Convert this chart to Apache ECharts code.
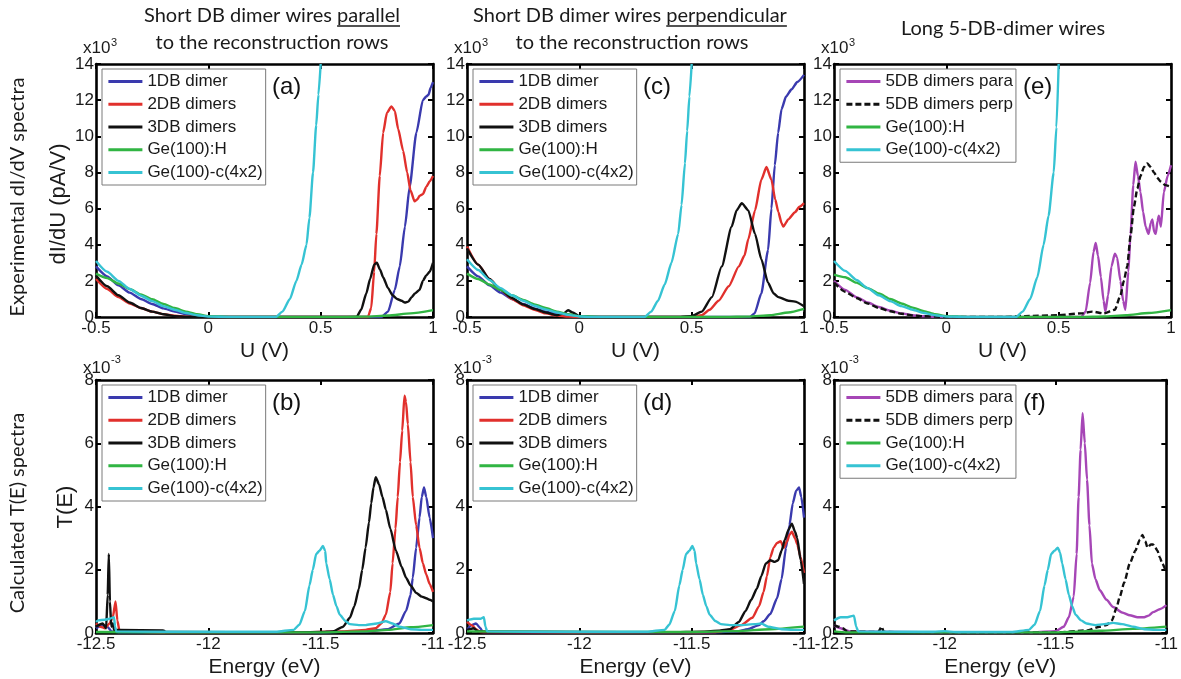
<!DOCTYPE html>
<html>
<head>
<meta charset="utf-8">
<script src="https://cdn.jsdelivr.net/npm/echarts@6/dist/echarts.min.js"></script>
<style>
  html, body { margin: 0; padding: 0; background: #fff; }
  #chart { width: 1181px; height: 679px; }
</style>
</head>
<body>
<div id="chart"></div>
<script>
// ---------- series names ----------
const NAMES_SHORT = ['1DB dimer', '2DB dimers', '3DB dimers', 'Ge(100):H', 'Ge(100)-c(4x2)'];
const NAMES_LONG = ['5DB dimers para', '5DB dimers perp', 'Ge(100):H', 'Ge(100)-c(4x2)'];

// ---------- (a) dI/dU, wires parallel to rows  [U (V), dI/dU x10^3 pA/V] ----------
const A_1DB = [[-0.5,2.8],[-0.45,2.25],[-0.4,1.75],[-0.35,1.35],[-0.3,1.0],[-0.25,0.72],[-0.2,0.48],[-0.15,0.3],[-0.1,0.16],[-0.05,0.06],[0,0.01],[0.2,0],[0.5,0],[0.77,0],[0.8,0.3],[0.83,1.5],[0.852,2.8],[0.875,5.0],[0.896,7.2],[0.926,10.2],[0.955,12.0],[0.97,12.2],[0.98,12.3],[0.99,12.7],[1.0,13.0]];
const A_2DB = [[-0.5,2.1],[-0.45,1.55],[-0.4,1.1],[-0.35,0.75],[-0.3,0.5],[-0.25,0.3],[-0.2,0.16],[-0.15,0.07],[-0.1,0.02],[0,0],[0.5,0],[0.71,0],[0.725,0.5],[0.738,2.5],[0.748,4.6],[0.763,7.8],[0.778,10.2],[0.795,11.3],[0.815,11.65],[0.83,11.4],[0.845,10.4],[0.867,9.2],[0.885,8.0],[0.9,7.0],[0.918,6.4],[0.93,6.5],[0.94,6.7],[0.955,6.8],[0.97,7.2],[0.985,7.5],[1.0,7.8]];
const A_3DB = [[-0.5,2.3],[-0.45,1.7],[-0.4,1.2],[-0.35,0.8],[-0.3,0.5],[-0.25,0.3],[-0.2,0.15],[-0.15,0.05],[-0.1,0.01],[0,0],[0.6,0],[0.66,0],[0.68,0.4],[0.703,1.3],[0.72,2.1],[0.738,2.9],[0.75,3.0],[0.765,2.6],[0.778,2.2],[0.8,1.6],[0.82,1.2],[0.84,1.0],[0.86,0.9],[0.875,0.8],[0.89,0.85],[0.905,1.1],[0.92,1.3],[0.94,1.5],[0.955,2.0],[0.97,2.3],[0.985,2.5],[1.0,3.0]];
const A_GEH = [[-0.5,2.4],[-0.45,2.15],[-0.4,1.85],[-0.35,1.55],[-0.3,1.25],[-0.25,0.98],[-0.2,0.72],[-0.15,0.5],[-0.1,0.3],[-0.05,0.15],[0,0.05],[0.1,0],[0.6,0],[0.7,0.02],[0.8,0.08],[0.9,0.2],[1.0,0.38]];
const A_GE4X2 = [[-0.5,3.1],[-0.45,2.5],[-0.4,2.0],[-0.35,1.55],[-0.3,1.18],[-0.25,0.88],[-0.2,0.6],[-0.15,0.4],[-0.1,0.22],[-0.05,0.1],[0,0.02],[0.1,0],[0.3,0],[0.33,0.3],[0.363,1.0],[0.392,2.0],[0.415,2.9],[0.437,4.0],[0.45,5.5],[0.466,8.0],[0.48,10.6],[0.49,12.3],[0.5,14]];

// ---------- (c) dI/dU, wires perpendicular to rows ----------
const C_1DB = [[-0.5,2.8],[-0.45,2.25],[-0.4,1.75],[-0.35,1.35],[-0.3,1.0],[-0.25,0.72],[-0.2,0.48],[-0.15,0.3],[-0.1,0.16],[-0.05,0.06],[0,0.01],[0.2,0],[0.5,0],[0.76,0],[0.78,0.2],[0.81,1.3],[0.84,3.7],[0.855,6.0],[0.87,8.4],[0.885,10.2],[0.9,11.5],[0.92,12.2],[0.945,12.6],[0.97,13.0],[1.0,13.4]];
const C_2DB = [[-0.5,3.9],[-0.45,2.9],[-0.4,2.1],[-0.35,1.5],[-0.3,1.0],[-0.25,0.65],[-0.2,0.4],[-0.15,0.2],[-0.1,0.08],[-0.05,0.02],[0,0],[0.5,0],[0.545,0.1],[0.58,0.4],[0.62,0.9],[0.665,1.7],[0.71,2.8],[0.735,3.4],[0.752,4.3],[0.782,5.9],[0.81,7.6],[0.833,8.3],[0.855,7.6],[0.872,6.5],[0.886,5.8],[0.9,5.2],[0.908,5.0],[0.93,5.4],[0.96,5.8],[0.98,6.1],[1.0,6.3]];
const C_3DB = [[-0.5,3.8],[-0.45,2.9],[-0.4,2.1],[-0.35,1.5],[-0.3,1.05],[-0.25,0.7],[-0.2,0.45],[-0.15,0.25],[-0.1,0.1],[-0.07,0.2],[-0.05,0.37],[-0.03,0.25],[0,0.05],[0.05,0],[0.45,0],[0.5,0.05],[0.545,0.3],[0.59,1.1],[0.634,2.8],[0.678,5.0],[0.7,5.9],[0.723,6.3],[0.752,5.9],[0.782,4.6],[0.81,3.2],[0.84,1.9],[0.865,1.3],[0.886,1.1],[0.93,0.9],[0.96,0.85],[1.0,0.6]];
const C_GEH = [[-0.5,2.4],[-0.45,2.1],[-0.4,1.8],[-0.35,1.5],[-0.3,1.2],[-0.25,0.95],[-0.2,0.7],[-0.15,0.5],[-0.1,0.3],[-0.05,0.15],[0,0.05],[0.1,0],[0.65,0],[0.75,0.02],[0.85,0.1],[0.93,0.25],[1.0,0.45]];
const C_GE4X2 = [[-0.5,3.2],[-0.45,2.6],[-0.4,2.05],[-0.35,1.6],[-0.3,1.2],[-0.25,0.9],[-0.2,0.62],[-0.15,0.42],[-0.1,0.25],[-0.05,0.12],[0,0.03],[0.05,0],[0.29,0],[0.32,0.3],[0.35,0.9],[0.38,1.8],[0.41,3.0],[0.44,4.6],[0.455,6.2],[0.47,8.5],[0.48,10.3],[0.49,12.2],[0.5,14]];

// ---------- (e) dI/dU, long 5-DB-dimer wires ----------
const E_5DB_PARA = [[-0.5,2.0],[-0.45,1.5],[-0.4,1.1],[-0.35,0.8],[-0.3,0.55],[-0.25,0.35],[-0.2,0.2],[-0.15,0.1],[-0.1,0.04],[-0.05,0.01],[0,0],[0.6,0],[0.62,0.3],[0.64,1.9],[0.655,3.6],[0.665,4.1],[0.675,3.4],[0.688,2.2],[0.7,0.9],[0.708,0.3],[0.72,1.2],[0.735,2.8],[0.75,3.5],[0.76,3.3],[0.775,2.0],[0.787,0.9],[0.797,0.4],[0.81,2.5],[0.82,4.6],[0.832,7.3],[0.842,8.6],[0.853,7.8],[0.864,6.9],[0.876,5.8],[0.887,5.0],[0.9,4.6],[0.91,5.2],[0.917,5.4],[0.925,4.7],[0.932,4.6],[0.94,5.3],[0.946,5.6],[0.955,5.0],[0.968,6.9],[0.985,7.8],[1.0,8.4]];
const E_5DB_PERP = [[-0.5,1.9],[-0.45,1.4],[-0.4,1.05],[-0.35,0.75],[-0.3,0.5],[-0.25,0.32],[-0.2,0.18],[-0.15,0.09],[-0.1,0.04],[0,0],[0.25,0],[0.35,0.05],[0.5,0.1],[0.6,0.2],[0.65,0.3],[0.7,0.2],[0.75,0.4],[0.775,1.2],[0.79,2.0],[0.805,2.8],[0.82,4.5],[0.835,6.1],[0.85,7.1],[0.864,7.8],[0.88,8.3],[0.894,8.5],[0.91,8.3],[0.924,8.0],[0.94,7.7],[0.953,7.5],[0.975,7.3],[1.0,7.2]];
const E_GEH = [[-0.5,2.35],[-0.45,2.2],[-0.4,1.9],[-0.35,1.6],[-0.3,1.3],[-0.25,1.0],[-0.2,0.75],[-0.15,0.52],[-0.1,0.32],[-0.05,0.15],[0,0.05],[0.1,0],[0.6,0],[0.7,0.03],[0.8,0.1],[0.9,0.22],[1.0,0.38]];
const E_GE4X2 = [[-0.5,3.1],[-0.45,2.55],[-0.4,2.05],[-0.35,1.6],[-0.3,1.2],[-0.25,0.88],[-0.2,0.6],[-0.15,0.4],[-0.1,0.22],[-0.05,0.1],[0,0.02],[0.1,0],[0.31,0],[0.34,0.3],[0.373,1.0],[0.405,2.2],[0.433,4.0],[0.455,5.6],[0.478,8.0],[0.49,10.5],[0.5,14]];

// ---------- (b) T(E), wires parallel  [E (eV), T x10^-3] ----------
const B_1DB = [[-12.5,0.15],[-12.47,0.25],[-12.45,0.2],[-12.43,0.05],[-12.4,0.02],[-12.2,0.02],[-11.6,0.01],[-11.3,0.05],[-11.2,0.12],[-11.15,0.3],[-11.12,0.7],[-11.1,1.2],[-11.09,1.75],[-11.075,2.7],[-11.06,3.65],[-11.05,4.3],[-11.04,4.6],[-11.03,4.3],[-11.015,3.65],[-11.0,3.0]];
const B_2DB = [[-12.5,0.3],[-12.48,0.2],[-12.46,0.15],[-12.44,0.3],[-12.425,0.5],[-12.413,1.0],[-12.405,0.4],[-12.395,0.05],[-12.2,0.02],[-11.6,0.02],[-11.4,0.05],[-11.3,0.1],[-11.255,0.15],[-11.23,0.3],[-11.21,0.58],[-11.19,1.3],[-11.18,2.2],[-11.167,3.3],[-11.157,4.3],[-11.147,5.4],[-11.137,6.4],[-11.127,7.5],[-11.12,7.3],[-11.112,6.6],[-11.1,5.4],[-11.09,4.3],[-11.075,3.4],[-11.06,2.7],[-11.045,2.2],[-11.03,1.85],[-11.015,1.55],[-11.0,1.3]];
const B_3DB = [[-12.5,0.2],[-12.47,0.3],[-12.455,0.15],[-12.448,1.2],[-12.443,2.5],[-12.438,1.0],[-12.432,0.2],[-12.425,0.3],[-12.42,0.1],[-12.4,0.1],[-12.2,0.08],[-12.19,0.03],[-11.6,0.02],[-11.5,0.03],[-11.445,0.05],[-11.4,0.2],[-11.37,0.48],[-11.35,0.85],[-11.33,1.4],[-11.315,2.0],[-11.3,2.7],[-11.285,3.5],[-11.275,4.1],[-11.265,4.6],[-11.255,4.93],[-11.24,4.7],[-11.225,4.3],[-11.21,3.9],[-11.19,3.3],[-11.165,2.6],[-11.14,2.1],[-11.12,1.75],[-11.1,1.5],[-11.075,1.27],[-11.05,1.15],[-11.03,1.1],[-11.015,1.05],[-11.0,1.0]];
const B_GEH = [[-12.5,0.03],[-12.0,0.02],[-11.5,0.02],[-11.3,0.05],[-11.2,0.1],[-11.1,0.18],[-11.0,0.25]];
const B_GE4X2 = [[-12.5,0.35],[-12.49,0.4],[-12.46,0.42],[-12.44,0.45],[-12.42,0.5],[-12.415,0.2],[-12.41,0.05],[-12.2,0.04],[-11.7,0.04],[-11.62,0.1],[-11.595,0.26],[-11.57,0.7],[-11.55,1.5],[-11.535,2.0],[-11.52,2.5],[-11.505,2.6],[-11.49,2.75],[-11.48,2.6],[-11.475,2.2],[-11.46,1.7],[-11.445,1.2],[-11.43,0.85],[-11.415,0.58],[-11.39,0.38],[-11.37,0.28],[-11.33,0.25],[-11.3,0.25],[-11.25,0.3],[-11.21,0.37],[-11.18,0.3],[-11.15,0.2],[-11.1,0.12],[-11.05,0.1],[-11.0,0.1]];

// ---------- (d) T(E), wires perpendicular ----------
const D_1DB = [[-12.5,0.1],[-12.48,0.25],[-12.46,0.3],[-12.44,0.15],[-12.43,0.03],[-11.6,0.01],[-11.4,0.02],[-11.3,0.05],[-11.25,0.12],[-11.2,0.25],[-11.18,0.37],[-11.15,0.6],[-11.12,1.1],[-11.1,1.7],[-11.08,2.7],[-11.065,3.4],[-11.05,4.1],[-11.035,4.5],[-11.022,4.6],[-11.012,4.3],[-11.0,3.65]];
const D_2DB = [[-12.5,0.35],[-12.48,0.25],[-12.46,0.12],[-12.44,0.03],[-11.6,0.02],[-11.4,0.03],[-11.33,0.1],[-11.28,0.25],[-11.23,0.48],[-11.2,0.85],[-11.18,1.3],[-11.165,1.8],[-11.15,2.4],[-11.135,2.7],[-11.12,2.85],[-11.104,2.9],[-11.09,2.7],[-11.075,2.9],[-11.065,3.1],[-11.054,3.2],[-11.04,3.0],[-11.03,2.8],[-11.015,2.4],[-11.0,1.9]];
const D_3DB = [[-12.5,0.1],[-12.47,0.15],[-12.45,0.05],[-11.6,0.02],[-11.45,0.04],[-11.38,0.07],[-11.33,0.12],[-11.29,0.35],[-11.26,0.7],[-11.235,1.05],[-11.21,1.4],[-11.19,1.8],[-11.17,2.2],[-11.15,2.3],[-11.13,2.25],[-11.115,2.3],[-11.1,2.6],[-11.085,2.95],[-11.07,3.25],[-11.054,3.46],[-11.04,3.2],[-11.03,3.0],[-11.015,2.3],[-11.0,1.55]];
const D_GEH = [[-12.5,0.05],[-12.0,0.03],[-11.5,0.03],[-11.3,0.06],[-11.15,0.12],[-11.0,0.2]];
const D_GE4X2 = [[-12.5,0.4],[-12.47,0.45],[-12.44,0.45],[-12.425,0.5],[-12.418,0.2],[-12.41,0.05],[-12.2,0.04],[-11.7,0.04],[-11.62,0.1],[-11.6,0.26],[-11.575,0.7],[-11.555,1.5],[-11.54,2.0],[-11.525,2.5],[-11.51,2.6],[-11.497,2.75],[-11.487,2.6],[-11.48,2.2],[-11.465,1.7],[-11.45,1.2],[-11.435,0.85],[-11.42,0.58],[-11.395,0.38],[-11.37,0.28],[-11.33,0.25],[-11.28,0.25],[-11.22,0.28],[-11.19,0.3],[-11.16,0.2],[-11.1,0.12],[-11.05,0.1],[-11.0,0.1]];

// ---------- (f) T(E), long 5-DB-dimer wires ----------
const F_5DB_PARA = [[-12.5,0.25],[-12.47,0.15],[-12.45,0.1],[-12.43,0.05],[-12.0,0.02],[-11.6,0.02],[-11.5,0.06],[-11.463,0.2],[-11.44,0.5],[-11.418,1.15],[-11.405,2.5],[-11.396,4.3],[-11.387,5.8],[-11.378,6.95],[-11.368,6.0],[-11.358,4.85],[-11.347,3.4],[-11.336,2.2],[-11.32,1.7],[-11.3,1.35],[-11.27,1.05],[-11.24,0.82],[-11.2,0.65],[-11.165,0.56],[-11.13,0.5],[-11.1,0.5],[-11.08,0.55],[-11.06,0.66],[-11.03,0.75],[-11.0,0.88]];
const F_5DB_PERP = [[-12.5,0.25],[-12.48,0.2],[-12.46,0.15],[-12.44,0.05],[-12.3,0.03],[-12.285,0.2],[-12.275,0.03],[-11.7,0.01],[-11.5,0.02],[-11.36,0.08],[-11.3,0.2],[-11.27,0.25],[-11.245,0.4],[-11.225,0.8],[-11.21,1.15],[-11.19,1.6],[-11.165,2.2],[-11.14,2.6],[-11.12,2.95],[-11.108,3.1],[-11.095,2.9],[-11.085,2.7],[-11.07,2.8],[-11.06,2.8],[-11.05,2.7],[-11.04,2.6],[-11.03,2.4],[-11.018,2.2],[-11.0,1.9]];
const F_GEH = [[-12.5,0.05],[-12.44,0.02],[-12.0,0.02],[-11.5,0.02],[-11.3,0.07],[-11.15,0.13],[-11.0,0.2]];
const F_GE4X2 = [[-12.5,0.4],[-12.47,0.5],[-12.44,0.5],[-12.41,0.55],[-12.4,0.2],[-12.39,0.05],[-12.2,0.04],[-12.05,0.04],[-12.0,0.06],[-11.95,0.03],[-11.7,0.03],[-11.62,0.1],[-11.595,0.26],[-11.57,0.7],[-11.55,1.5],[-11.535,2.0],[-11.52,2.5],[-11.505,2.6],[-11.49,2.7],[-11.48,2.55],[-11.47,2.2],[-11.455,1.7],[-11.44,1.2],[-11.425,0.85],[-11.41,0.58],[-11.385,0.4],[-11.36,0.3],[-11.32,0.25],[-11.28,0.28],[-11.24,0.32],[-11.2,0.28],[-11.15,0.2],[-11.1,0.12],[-11.05,0.1],[-11.0,0.1]];

// ---------- tick settings ----------
const U_RANGE = [-0.5, 1, 0.5];       // min, max, interval
const E_RANGE = [-12.5, -11, 0.5];
const DIDU_RANGE = [0, 14, 2];
const T_RANGE = [0, 8, 2];

// ---------- styling ----------
const COLOR = {
  '1DB dimer': '#3a3aae',
  '2DB dimers': '#e1302c',
  '3DB dimers': '#111111',
  'Ge(100):H': '#31b543',
  'Ge(100)-c(4x2)': '#36c3d3',
  '5DB dimers para': '#a646b6',
  '5DB dimers perp': '#111111'
};
const TICK_FONT = "'Liberation Sans', Arial, sans-serif";
const TITLE_FONT = "Lato, 'Open Sans', sans-serif";

const PANELS = [
  { id: 'a', left: 96,  top: 64,  xr: U_RANGE, yr: DIDU_RANGE, names: NAMES_SHORT, data: [A_1DB, A_2DB, A_3DB, A_GEH, A_GE4X2], xname: 'U (V)' },
  { id: 'c', left: 467, top: 64,  xr: U_RANGE, yr: DIDU_RANGE, names: NAMES_SHORT, data: [C_1DB, C_2DB, C_3DB, C_GEH, C_GE4X2], xname: 'U (V)' },
  { id: 'e', left: 834, top: 64,  xr: U_RANGE, yr: DIDU_RANGE, names: NAMES_LONG,  data: [E_5DB_PARA, E_5DB_PERP, E_GEH, E_GE4X2], xname: 'U (V)' },
  { id: 'b', left: 96,  top: 380, xr: E_RANGE, yr: T_RANGE, names: NAMES_SHORT, data: [B_1DB, B_2DB, B_3DB, B_GEH, B_GE4X2], xname: 'Energy (eV)' },
  { id: 'd', left: 467, top: 380, xr: E_RANGE, yr: T_RANGE, names: NAMES_SHORT, data: [D_1DB, D_2DB, D_3DB, D_GEH, D_GE4X2], xname: 'Energy (eV)' },
  { id: 'f', left: 834, top: 380, xr: E_RANGE, yr: T_RANGE, names: NAMES_LONG,  data: [F_5DB_PARA, F_5DB_PERP, F_GEH, F_GE4X2], xname: 'Energy (eV)' }
];
const PW = 337, PH = 253;

const grid = [], xAxis = [], yAxis = [], series = [], legend = [], graphic = [];

const axisLine = { show: true, onZero: false, lineStyle: { color: '#000', width: 2.6 } };
const tickIn = { show: true, inside: true, length: 5, lineStyle: { color: '#000', width: 2 } };

PANELS.forEach((p, i) => {
  grid.push({ left: p.left, top: p.top, width: PW, height: PH });
  const xBase = { type: 'value', gridIndex: i, min: p.xr[0], max: p.xr[1], interval: p.xr[2],
    axisLine, axisTick: tickIn, splitLine: { show: false } };
  const yBase = { type: 'value', gridIndex: i, min: p.yr[0], max: p.yr[1], interval: p.yr[2],
    axisLine, axisTick: tickIn, splitLine: { show: false } };
  xAxis.push(Object.assign({}, xBase, {
    position: 'bottom',
    axisLabel: { color: '#1a1a1a', fontSize: 17, fontFamily: TICK_FONT, margin: 3 },
    name: p.xname, nameLocation: 'middle', nameGap: 24,
    nameTextStyle: { color: '#1a1a1a', fontSize: 21, fontFamily: TICK_FONT }
  }));
  xAxis.push(Object.assign({}, xBase, { position: 'top', axisLabel: { show: false } }));
  yAxis.push(Object.assign({}, yBase, {
    position: 'left',
    axisLabel: { color: '#1a1a1a', fontSize: 17, fontFamily: TICK_FONT, margin: 2 }
  }));
  yAxis.push(Object.assign({}, yBase, { position: 'right', axisLabel: { show: false } }));

  p.names.forEach((name, k) => {
    series.push({
      type: 'line', name, xAxisIndex: 2 * i, yAxisIndex: 2 * i,
      data: p.data[k], symbol: 'none', smooth: 0.2, smoothMonotone: 'x',
      lineStyle: { color: COLOR[name], width: 2.4, type: name === '5DB dimers perp' ? [6, 3] : 'solid' },
      itemStyle: { color: COLOR[name] },
      silent: true
    });
  });

  // legend keys show only the line sample, no marker
  legend.push({
    data: p.names, orient: 'vertical', left: p.left + 6, top: p.top + 5,
    itemWidth: 34, itemHeight: 12, itemGap: 5.75,
    padding: [4, 3, 4, 5],
    borderColor: '#7a7a7a', borderWidth: 1, backgroundColor: '#fff',
    selectedMode: false,
    itemStyle: { opacity: 0, color: 'rgba(0,0,0,0)', borderWidth: 0 },
    lineStyle: { width: 2.8 },
    textStyle: { color: '#1a1a1a', fontSize: 17, fontFamily: TICK_FONT, lineHeight: 17 }
  });

  // panel letter
  graphic.push({ type: 'text', left: p.left + (i % 3 === 2 ? 189 : 176), top: p.top + 11,
    style: { text: '(' + p.id + ')', font: '24px ' + TICK_FONT, fill: '#111' }, z: 100 });

  // exponent marker above the y axis
  const sup = p.yr === DIDU_RANGE ? '3' : '-3';
  graphic.push({ type: 'text', left: p.left - 13, top: p.top - (p.yr === DIDU_RANGE ? 24 : 20),
    style: { text: 'x10', font: '17px ' + TICK_FONT, fill: '#1a1a1a' }, z: 100 });
  graphic.push({ type: 'text', left: p.left + 15, top: p.top - (p.yr === DIDU_RANGE ? 27 : 26),
    style: { text: sup, font: '11px ' + TICK_FONT, fill: '#1a1a1a' }, z: 100 });
});

// ---------- column titles (with underlined keyword) ----------
const measureCtx = document.createElement('canvas').getContext('2d');
function textWidth(s, font) { measureCtx.font = font; return measureCtx.measureText(s).width; }
const TITLE_CSS = '20px ' + TITLE_FONT;

function titleWithUnderline(prefix, word, cx, cy) {
  const full = prefix + word;
  const w = textWidth(full, TITLE_CSS);
  const x0 = cx - w / 2;
  graphic.push({ type: 'text', x: cx, y: cy,
    style: { text: full, font: TITLE_CSS, fill: '#1a1a1a', align: 'center', verticalAlign: 'middle' } });
  graphic.push({ type: 'line',
    shape: { x1: x0 + textWidth(prefix, TITLE_CSS), y1: cy + 10, x2: x0 + w, y2: cy + 10 },
    style: { stroke: '#1a1a1a', lineWidth: 1.3 } });
}
function plainText(text, cx, cy, font, rot) {
  graphic.push({ type: 'text', x: cx, y: cy, rotation: rot || 0,
    style: { text, font, fill: '#1a1a1a', align: 'center', verticalAlign: 'middle' } });
}

titleWithUnderline('Short DB dimer wires ', 'parallel', 272, 16);
plainText('to the reconstruction rows', 272, 43, TITLE_CSS);
titleWithUnderline('Short DB dimer wires ', 'perpendicular', 630, 16);
plainText('to the reconstruction rows', 632, 43, TITLE_CSS);
plainText('Long 5-DB-dimer wires', 1003, 29, TITLE_CSS);

// row labels on the far left
plainText('Experimental dI/dV spectra', 18, 197, TITLE_CSS, Math.PI / 2);
plainText('dI/dU (pA/V)', 59, 204, '22px ' + TICK_FONT, Math.PI / 2);
plainText('Calculated T(E) spectra', 18, 513, TITLE_CSS, Math.PI / 2);
plainText('T(E)', 66, 507, '22px ' + TICK_FONT, Math.PI / 2);

const chart = echarts.init(document.getElementById('chart'), null, { renderer: 'canvas' });
chart.setOption({
  animation: false,
  backgroundColor: '#fff',
  grid, xAxis, yAxis, series, legend, graphic
});
</script>
</body>
</html>
